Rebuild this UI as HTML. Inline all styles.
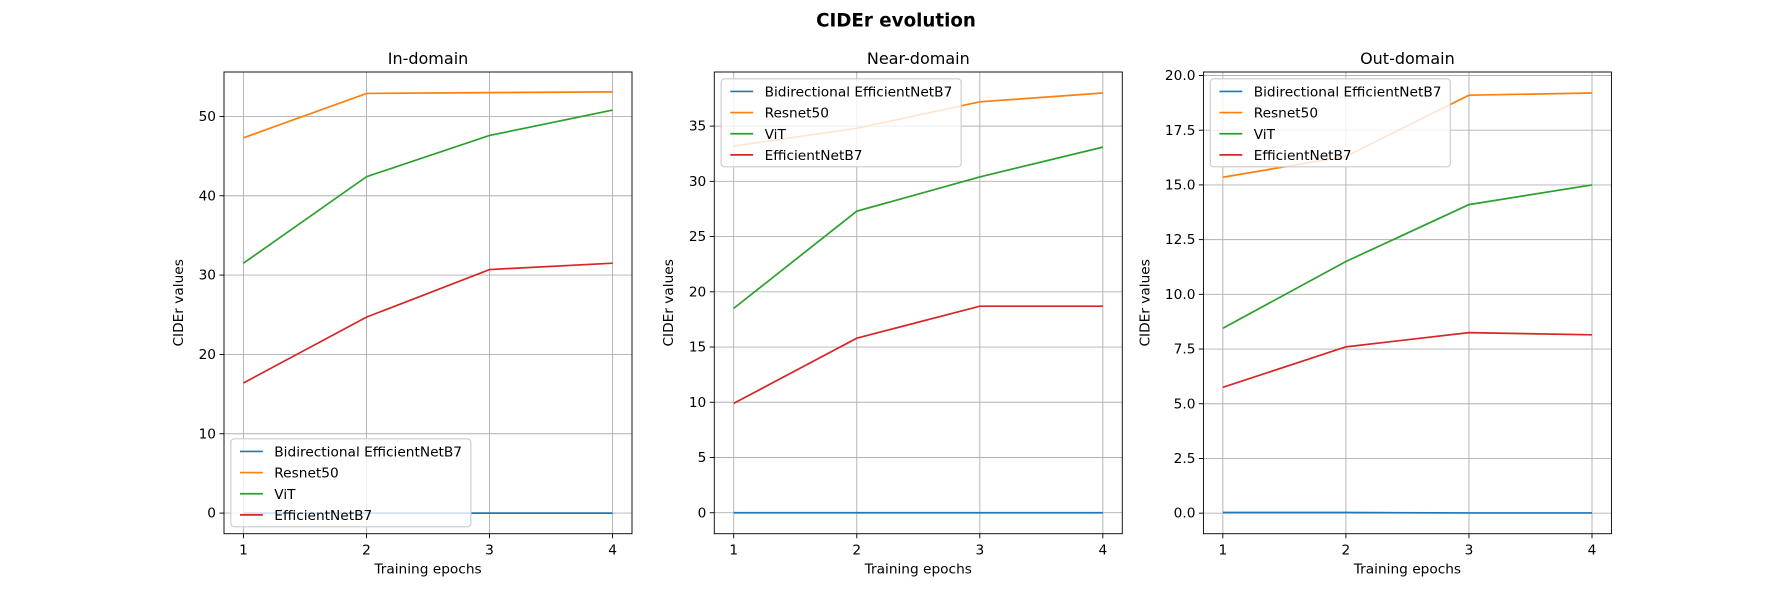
<!DOCTYPE html>
<html><head><meta charset="utf-8"><style>
body{margin:0;background:#fff;font-family:"Liberation Sans","DejaVu Sans",sans-serif}
svg text{font-family:"DejaVu Sans","Liberation Sans",sans-serif}
svg{display:block}
</style></head><body>
<svg id="chart" width="1792" height="600" viewBox="0 0 1568 525" xmlns="http://www.w3.org/2000/svg">
<text x="784" y="23" text-anchor="middle" font-size="16" font-weight="bold">CIDEr evolution</text>
</svg>
<script>
const epochs = [1, 2, 3, 4];
const seriesNames = ["Bidirectional EfficientNetB7", "Resnet50", "ViT", "EfficientNetB7"];
const seriesColors = ["#1f77b4", "#ff7f0e", "#2ca02c", "#d62728"];
const panelTitles = ["In-domain", "Near-domain", "Out-domain"];
const inBidir = [0, 0, 0, 0];
const inResnet = [47.3, 52.9, 53.0, 53.1];
const inVit = [31.5, 42.4, 47.6, 50.8];
const inEff = [16.4, 24.7, 30.7, 31.5];
const nearBidir = [0, 0, 0, 0];
const nearResnet = [33.2, 34.8, 37.2, 38.0];
const nearVit = [18.5, 27.3, 30.4, 33.1];
const nearEff = [9.9, 15.8, 18.7, 18.7];
const outBidir = [0.03, 0.03, 0.01, 0.01];
const outResnet = [15.35, 16.3, 19.1, 19.2];
const outVit = [8.45, 11.5, 14.1, 15.0];
const outEff = [5.75, 7.6, 8.25, 8.15];
const inTicks = [0, 10, 20, 30, 40, 50];
const nearTicks = [0, 5, 10, 15, 20, 25, 30, 35];
const outTicks = [0, 2.5, 5, 7.5, 10, 12.5, 15, 17.5, 20];
const inTickLabels = ["0","10","20","30","40","50"];
const nearTickLabels = ["0","5","10","15","20","25","30","35"];
const outTickLabels = ["0.0","2.5","5.0","7.5","10.0","12.5","15.0","17.5","20.0"];

const NS = "http://www.w3.org/2000/svg";
const svg = document.getElementById("chart");
function mk(tag, attrs, parent) {
  const e = document.createElementNS(NS, tag);
  for (const k in attrs) e.setAttribute(k, attrs[k]);
  (parent || svg).appendChild(e);
  return e;
}
const panels = [
  {left:196, ymin:-2.6, ymax:55.6, ticks:inTicks, labels:inTickLabels, data:[inBidir,inResnet,inVit,inEff], legend:"bottom", ylab:36},
  {left:625, ymin:-1.9, ymax:39.9, ticks:nearTicks, labels:nearTickLabels, data:[nearBidir,nearResnet,nearVit,nearEff], legend:"top", ylab:36},
  {left:1053, ymin:-0.94, ymax:20.16, ticks:outTicks, labels:outTickLabels, data:[outBidir,outResnet,outVit,outEff], legend:"top", ylab:47}
];
const plotTop = 63, plotBottom = 467, W = 357;
panels.forEach((p, pi) => {
  const g = mk("g", {});
  
  
  const xs = v => p.left + 17 + (v - 1) * (W - 34) / 3;
  const ys = v => plotBottom - (v - p.ymin) / (p.ymax - p.ymin) * (plotBottom - plotTop);
  epochs.forEach(e => {
    const l = mk("line", {x1:xs(e), x2:xs(e), y1:plotTop, y2:plotBottom, stroke:"#b0b0b0", "stroke-width":0.8}, g);
    
    
    mk("line", {x1:xs(e), x2:xs(e), y1:plotBottom, y2:plotBottom+4, stroke:"#000", "stroke-width":0.8}, g);
    const t = mk("text", {x:xs(e), y:plotBottom+18, "text-anchor":"middle", "font-size":12}, g);
    t.textContent = e;
    
    
  });
  p.ticks.forEach((v, i) => {
    const l = mk("line", {x1:p.left, x2:p.left+W, y1:ys(v), y2:ys(v), stroke:"#b0b0b0", "stroke-width":0.8}, g);
    
    
    mk("line", {x1:p.left-4, x2:p.left, y1:ys(v), y2:ys(v), stroke:"#000", "stroke-width":0.8}, g);
    const t = mk("text", {x:p.left-7, y:ys(v)+4, "text-anchor":"end", "font-size":12}, g);
    t.textContent = p.labels[i];
    
    
  });
  p.data.forEach((d, si) => {
    const pl = mk("polyline", {points:d.map((v,i)=>xs(epochs[i])+","+ys(v)).join(" "), fill:"none", stroke:seriesColors[si], "stroke-width":1.5}, g);
    
    
  });
  const fr = mk("rect", {x:p.left, y:plotTop, width:W, height:plotBottom-plotTop, fill:"none", stroke:"#000", "stroke-width":0.8}, g);
  
  
  const tt = mk("text", {x:p.left+W/2, y:56, "text-anchor":"middle", "font-size":14}, g);
  tt.textContent = panelTitles[pi];
  
  
  const xl = mk("text", {x:p.left+W/2, y:502, "text-anchor":"middle", "font-size":12}, g);
  xl.textContent = "Training epochs";
  
  
  const yl = mk("text", {x:0, y:0, "text-anchor":"middle", "font-size":12, transform:`translate(${p.left-p.ylab},${(plotTop+plotBottom)/2}) rotate(-90)`}, g);
  yl.textContent = "CIDEr values";
  
  
  const lx = p.left + 6, ly = p.legend === "top" ? 69 : 384;
  const lg = mk("g", {}, g);
  
  
  mk("rect", {x:lx, y:ly, width:210, height:77, rx:3, fill:"#fff", "fill-opacity":0.8, stroke:"#ccc", "stroke-width":1}, lg);
  seriesNames.forEach((n, si) => {
    const yy = ly + 11 + si * 18.5;
    const ll = mk("line", {x1:lx+8, x2:lx+28, y1:yy, y2:yy, stroke:seriesColors[si], "stroke-width":1.5}, lg);
    
    
    const lt = mk("text", {x:lx+38, y:yy+4.5, "font-size":12}, lg);
    lt.textContent = n;
    
    
  });
});
</script>
</body></html>
